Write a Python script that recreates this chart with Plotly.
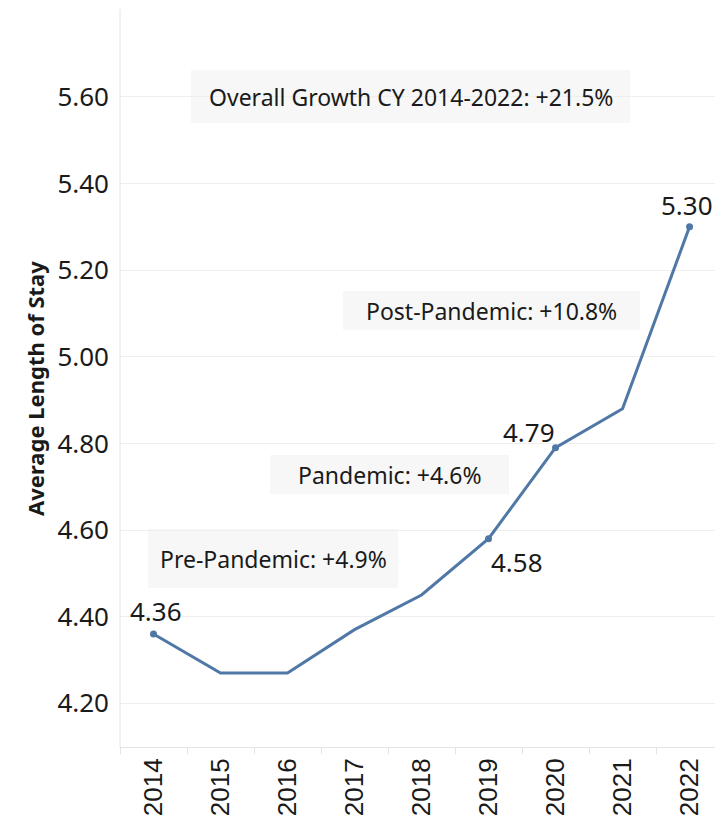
import plotly.graph_objects as go

years = ["2014", "2015", "2016", "2017", "2018", "2019", "2020", "2021", "2022"]
avg_los = [4.36, 4.27, 4.27, 4.37, 4.45, 4.58, 4.79, 4.88, 5.30]
labeled_years = ["2014", "2019", "2020", "2022"]
labeled_values = [4.36, 4.58, 4.79, 5.30]
label_texts = ["4.36", "4.58", "4.79", "5.30"]
y_ticks = [4.20, 4.40, 4.60, 4.80, 5.00, 5.20, 5.40, 5.60]
y_tick_text = ["4.20", "4.40", "4.60", "4.80", "5.00", "5.20", "5.40", "5.60"]
period_texts = ["Overall Growth CY 2014-2022: +21.5%", "Post-Pandemic: +10.8%",
                "Pandemic: +4.6%", "Pre-Pandemic: +4.9%"]

W, H = 715, 816
L, R, T, B = 120, 0, 9, 816 - 747
PW, PH = W - L - R, H - T - B

def xp(sx):  # screen px -> paper x
    return (sx - L) / PW

def yp(sy):  # screen px -> paper y
    return (H - B - sy) / PH

LINE = "#5078a6"
TXT = "#1a1a1a"
FONT = "Noto Sans"

fig = go.Figure()
fig.add_trace(go.Scatter(x=years, y=avg_los, mode="lines",
                         line=dict(color=LINE, width=3), hoverinfo="skip",
                         showlegend=False))
fig.add_trace(go.Scatter(x=labeled_years, y=labeled_values, mode="markers",
                         marker=dict(color=LINE, size=7), hoverinfo="skip",
                         showlegend=False))

# data labels (offsets in px)
offsets = {"2014": (2, 23), "2019": (28, -23), "2020": (-27, 16), "2022": (-3, 22)}
for yr, v, t in zip(labeled_years, labeled_values, label_texts):
    dx, dy = offsets[yr]
    fig.add_annotation(x=years.index(yr), y=v, text=t, showarrow=False, xshift=dx, yshift=dy,
                       xanchor="center", yanchor="middle",
                       font=dict(family=FONT, size=26, color=TXT))

# period boxes: (left, right, top, bottom) in screen px
boxes = [(191, 630, 70, 123), (343, 640, 291, 330), (270, 509, 455, 494), (148, 398, 529, 588)]
for txt, (x0, x1, y0, y1) in zip(period_texts, boxes):
    fig.add_shape(type="rect", xref="paper", yref="paper",
                  x0=xp(x0), x1=xp(x1), y0=yp(y1), y1=yp(y0),
                  fillcolor="#f7f7f7", line=dict(width=0), layer="below")
    fig.add_annotation(xref="paper", yref="paper", x=xp((x0 + x1) / 2), y=yp((y0 + y1) / 2),
                       text=txt, showarrow=False, xanchor="center", yanchor="middle",
                       font=dict(family=FONT, size=23, color=TXT))

# y axis title
fig.add_annotation(xref="paper", yref="paper", x=xp(35), y=yp(389), text="<b>Average Length of Stay</b>",
                   textangle=-90, showarrow=False, xanchor="center", yanchor="middle",
                   font=dict(family=FONT, size=22, color=TXT))

fig.update_layout(
    width=W, height=H, margin=dict(l=L, r=R, t=T, b=B),
    plot_bgcolor="white", paper_bgcolor="white", showlegend=False,
    xaxis=dict(type="category", categoryorder="array", categoryarray=years,
               range=[-0.5, 8.38], showgrid=False, showline=True, linecolor="#e4e4e4",
               linewidth=1, ticks="outside", tickson="boundaries", ticklen=6,
               tickcolor="#e4e4e4", tickangle=-90, zeroline=False,
               tickfont=dict(family="Liberation Sans", size=26, color=TXT)),
    yaxis=dict(range=[4.099, 5.803], tickvals=y_ticks, ticktext=y_tick_text,
               showgrid=True, gridcolor="#efefef", gridwidth=1, zeroline=False,
               showline=False, ticks="", ticklabelstandoff=10,
               tickfont=dict(family=FONT, size=26, color=TXT)),
)
fig.add_shape(type="line", xref="paper", yref="paper", x0=0, x1=0, y0=0, y1=1,
              line=dict(color="#e4e4e4", width=1))

fig.write_html("out.html", config={"displayModeBar": False},
               post_script="document.body.style.margin='0';document.body.style.overflow='hidden';")
